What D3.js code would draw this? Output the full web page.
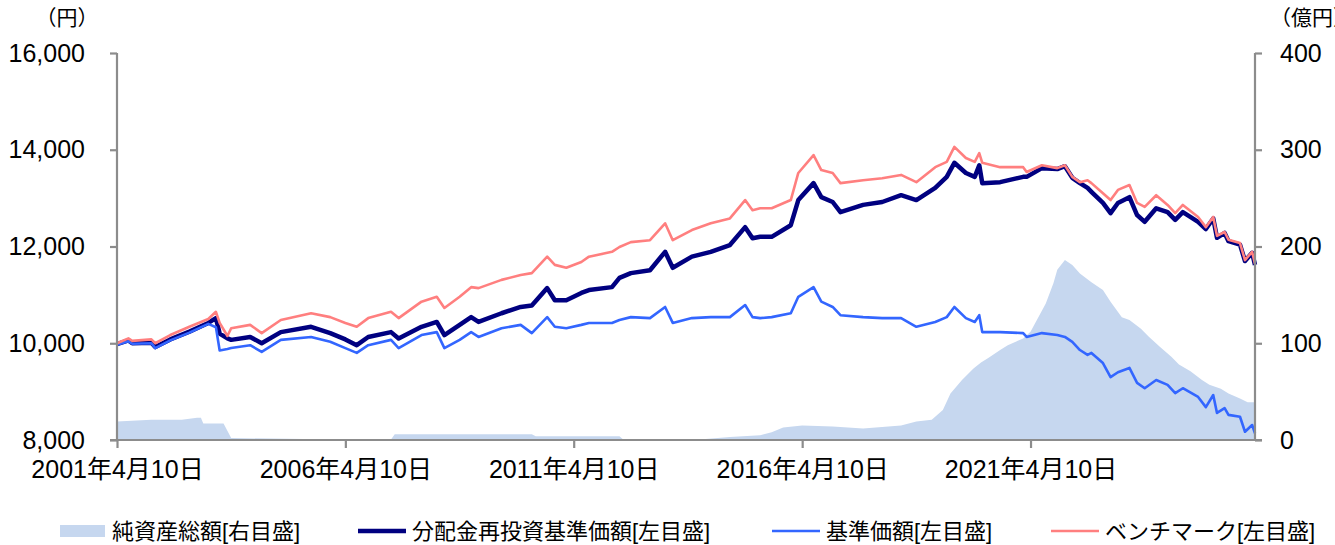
<!DOCTYPE html>
<html><head><meta charset="utf-8">
<script src="https://cdn.jsdelivr.net/npm/d3@7/dist/d3.min.js"></script>
<style>
body{margin:0;background:#fff;}
text{font-family:"Liberation Sans",Arial,"Noto Sans CJK JP",sans-serif;fill:#000;}
</style>
</head><body>
<svg id="chart" width="1335" height="545"></svg>
<script>
// ---- data ----
const lineDates = [
"2001-04-10","2001-07-10","2001-08-10","2002-01-10","2002-02-10","2002-06-10","2002-11-10","2003-04-10","2003-06-10","2003-07-10",
"2003-09-10","2003-10-10","2004-03-10","2004-06-10","2004-11-10","2005-07-10","2005-12-10","2006-04-10","2006-07-10","2006-10-10",
"2007-04-10","2007-06-10","2007-12-10","2008-04-10","2008-06-10","2008-10-10","2009-01-10","2009-03-10","2009-09-10","2010-02-10",
"2010-05-10","2010-09-10","2010-11-10","2011-02-10","2011-06-10","2011-08-10","2012-02-10","2012-04-10","2012-07-10","2012-12-10",
"2013-04-10","2013-06-10","2013-11-10","2014-04-10","2014-09-10","2015-01-10","2015-03-10","2015-05-10","2015-08-10","2016-01-10",
"2016-03-10","2016-07-10","2016-09-10","2016-12-10","2017-02-10","2017-08-10","2018-01-10","2018-06-10","2018-10-10","2019-03-10",
"2019-06-10","2019-08-10","2019-11-10","2020-01-20","2020-02-25","2020-03-20","2020-08-10","2021-02-10","2021-03-10","2021-07-10",
"2021-11-10","2022-01-10","2022-03-10","2022-05-10","2022-07-10","2022-08-10","2022-11-10","2023-01-10","2023-03-10","2023-06-10",
"2023-08-10","2023-10-10","2024-01-10","2024-04-10","2024-06-10","2024-08-10","2024-12-10","2025-02-10","2025-04-10","2025-05-10",
"2025-07-10","2025-08-10","2025-11-10","2025-12-20","2026-02-15","2026-03-10"];

// 分配金再投資基準価額 (円)
const reinvestedNav = [
9980,10060,10000,10010,9920,10080,10240,10420,10520,10200,
10100,10070,10130,10000,10230,10340,10210,10080,9960,10130,
10230,10100,10340,10440,10170,10380,10540,10440,10620,10750,
10780,11140,10890,10890,11040,11100,11160,11350,11450,11510,
11890,11560,11790,11890,12030,12400,12170,12200,12200,12440,
12960,13310,13020,12920,12710,12860,12920,13060,12960,13210,
13440,13730,13520,13440,13680,13310,13330,13440,13440,13620,
13600,13660,13420,13310,13210,13130,12900,12690,12900,13020,
12650,12510,12790,12710,12550,12710,12510,12360,12580,12180,
12280,12110,12040,11700,11870,11620];

// 基準価額 (円)
const nav = [
9970,10040,9990,10000,9900,10060,10220,10400,10330,9850,
9880,9900,9960,9820,10070,10130,10030,9900,9800,9960,
10070,9900,10170,10230,9900,10070,10230,10130,10310,10380,
10210,10540,10340,10310,10380,10420,10420,10480,10540,10520,
10750,10420,10520,10540,10540,10790,10540,10520,10540,10620,
10960,11160,10860,10750,10580,10540,10520,10520,10340,10440,
10540,10750,10520,10440,10580,10230,10230,10210,10130,10210,
10170,10130,10030,9860,9760,9800,9590,9300,9400,9490,
9180,9070,9240,9140,8970,9070,8890,8680,8930,8560,
8660,8520,8480,8170,8310,8140];

// ベンチマーク (円)
const benchmark = [
10000,10100,10050,10080,10000,10170,10340,10500,10650,10420,
10150,10310,10380,10210,10480,10620,10540,10420,10340,10520,
10650,10520,10860,10960,10730,10960,11160,11140,11310,11410,
11450,11790,11620,11560,11680,11790,11890,11990,12090,12130,
12480,12130,12340,12480,12580,12960,12750,12790,12790,12960,
13520,13890,13580,13520,13310,13370,13410,13480,13330,13640,
13750,14060,13830,13750,13930,13730,13640,13640,13540,13680,
13620,13680,13440,13330,13370,13310,13100,12960,13170,13270,
12900,12820,13060,12860,12690,12860,12610,12400,12610,12220,
12300,12140,12070,11720,11890,11640];

// 純資産総額 (億円)
const assetDates = [
"2001-04-10","2002-01-10","2002-09-10","2003-01-10","2003-02-10","2003-03-01","2003-08-10","2003-10-10","2005-05-10","2006-04-10",
"2007-04-10","2007-05-10","2010-05-10","2010-06-10","2012-04-10","2012-05-10","2014-01-10","2014-09-10","2015-05-10","2015-08-10",
"2015-11-10","2016-04-10","2016-12-10","2017-08-10","2018-06-10","2018-10-10","2019-02-10","2019-05-10","2019-07-10","2019-10-10",
"2020-01-10","2020-03-10","2020-05-10","2020-08-10","2020-10-10","2021-02-10","2021-04-10","2021-08-10","2021-10-10","2021-11-10",
"2022-01-10","2022-03-10","2022-05-10","2022-08-10","2022-11-10","2023-01-10","2023-04-10","2023-06-10","2023-09-10","2023-11-10",
"2024-02-10","2024-05-10","2024-07-10","2024-10-10","2025-01-10","2025-03-10","2025-06-10","2025-08-10","2025-11-10","2026-01-10",
"2026-03-10"];
const netAssets = [
19,21,21,23,23,17,17,2,1,0.5,
0.5,6,6,4,4,0.5,0.5,3,5,8,
13,15,14,12,15,19,21,31,48,62,
74,80,85,93,98,105,112,141,162,176,
186,181,172,163,155,143,127,124,115,107,
96,86,78,71,62,57,53,48,43,39,
39];

const leftTicks = [8000, 10000, 12000, 14000, 16000];
const rightTicks = [0, 100, 200, 300, 400];
const xTickDates = ["2001-04-10","2006-04-10","2011-04-10","2016-04-10","2021-04-10"];
const legendLabels = ["純資産総額[右目盛]","分配金再投資基準価額[左目盛]","基準価額[左目盛]","ベンチマーク[左目盛]"];
const leftUnit = "（円）";
const rightUnit = "（億円）";

// ---- drawing ----
const parse = d3.timeParse("%Y-%m-%d");
const svg = d3.select("#chart");
const L = 117, R = 1255, T = 53, B = 440;
const axisColor = "#8c8c8c";
const colArea = "#c6d7ef", colReinv = "#000080", colNav = "#3366ff", colBench = "#ff7f7f";
const font = '"Liberation Sans",Arial,"Noto Sans CJK JP",sans-serif';

const xs = d3.scaleTime()
  .domain([parse(lineDates[0]), parse(lineDates[lineDates.length-1])])
  .range([L, R]);
const yl = d3.scaleLinear().domain([8000, 16000]).range([B, T]);
const yr = d3.scaleLinear().domain([0, 400]).range([B, T]);

// area
const aData = assetDates.map((d,i)=>({d:parse(d), v:netAssets[i]}));
svg.append("path").datum(aData)
  .attr("fill", colArea)
  .attr("d", d3.area().x(p=>xs(p.d)).y0(yr(0)).y1(p=>yr(p.v)));

const mk = vals => lineDates.map((d,i)=>({d:parse(d), v:vals[i]}));
const line = d3.line().x(p=>xs(p.d)).y(p=>yl(p.v));
svg.append("path").datum(mk(reinvestedNav)).attr("fill","none").attr("stroke",colReinv).attr("stroke-width",4.5).attr("stroke-linejoin","round").attr("d",line);
svg.append("path").datum(mk(nav)).attr("fill","none").attr("stroke",colNav).attr("stroke-width",2.6).attr("stroke-linejoin","round").attr("d",line);
svg.append("path").datum(mk(benchmark)).attr("fill","none").attr("stroke",colBench).attr("stroke-width",2.6).attr("stroke-linejoin","round").attr("d",line);

// axes
const fmtY = d3.format(",");
const gl = svg.append("g").attr("transform",`translate(${L},0)`)
  .call(d3.axisLeft(yl).tickValues(leftTicks).tickSize(7).tickPadding(25).tickFormat(fmtY));
const gr = svg.append("g").attr("transform",`translate(${R},0)`)
  .call(d3.axisRight(yr).tickValues(rightTicks).tickSize(7).tickPadding(18).tickFormat(fmtY));
const gb = svg.append("g").attr("transform",`translate(0,${B})`)
  .call(d3.axisBottom(xs).tickValues(xTickDates.map(parse)).tickSize(8).tickPadding(12).tickFormat(d3.timeFormat("%Y年%-m月%-d日")));
gb.select(".domain").attr("d", `M${L-7},0H${R+7}`);
[gl,gr,gb].forEach(g=>{
  g.selectAll(".domain,.tick line").attr("stroke",axisColor).attr("stroke-width",2.2);
  g.selectAll("text").attr("font-size",25).attr("fill","#000").style("font-family",font);
});
gl.select(".domain").attr("d",`M0,${T}V${B}`);
gr.select(".domain").attr("d",`M0,${T}V${B}`);

svg.append("text").attr("x",67).attr("y",25).attr("text-anchor","middle").attr("font-size",21).text(leftUnit);
svg.append("text").attr("x",1270).attr("y",25).attr("text-anchor","start").attr("font-size",21).text(rightUnit);

// legend
const legX = [60, 358, 772, 1051];
const lg = svg.append("g");
legendLabels.forEach((t,i)=>{
  const x = legX[i], y = 531;
  if (i===0) lg.append("rect").attr("x",x).attr("y",y-6).attr("width",45).attr("height",12).attr("fill",colArea);
  else lg.append("line").attr("x1",x).attr("x2",x+48).attr("y1",y).attr("y2",y)
        .attr("stroke",[null,colReinv,colNav,colBench][i]).attr("stroke-width",i===1?4.5:2.6);
  lg.append("text").attr("x",x+(i===0?52:54)).attr("y",y).attr("dy","0.36em").attr("font-size",22).text(t);
});
</script>
</body></html>
